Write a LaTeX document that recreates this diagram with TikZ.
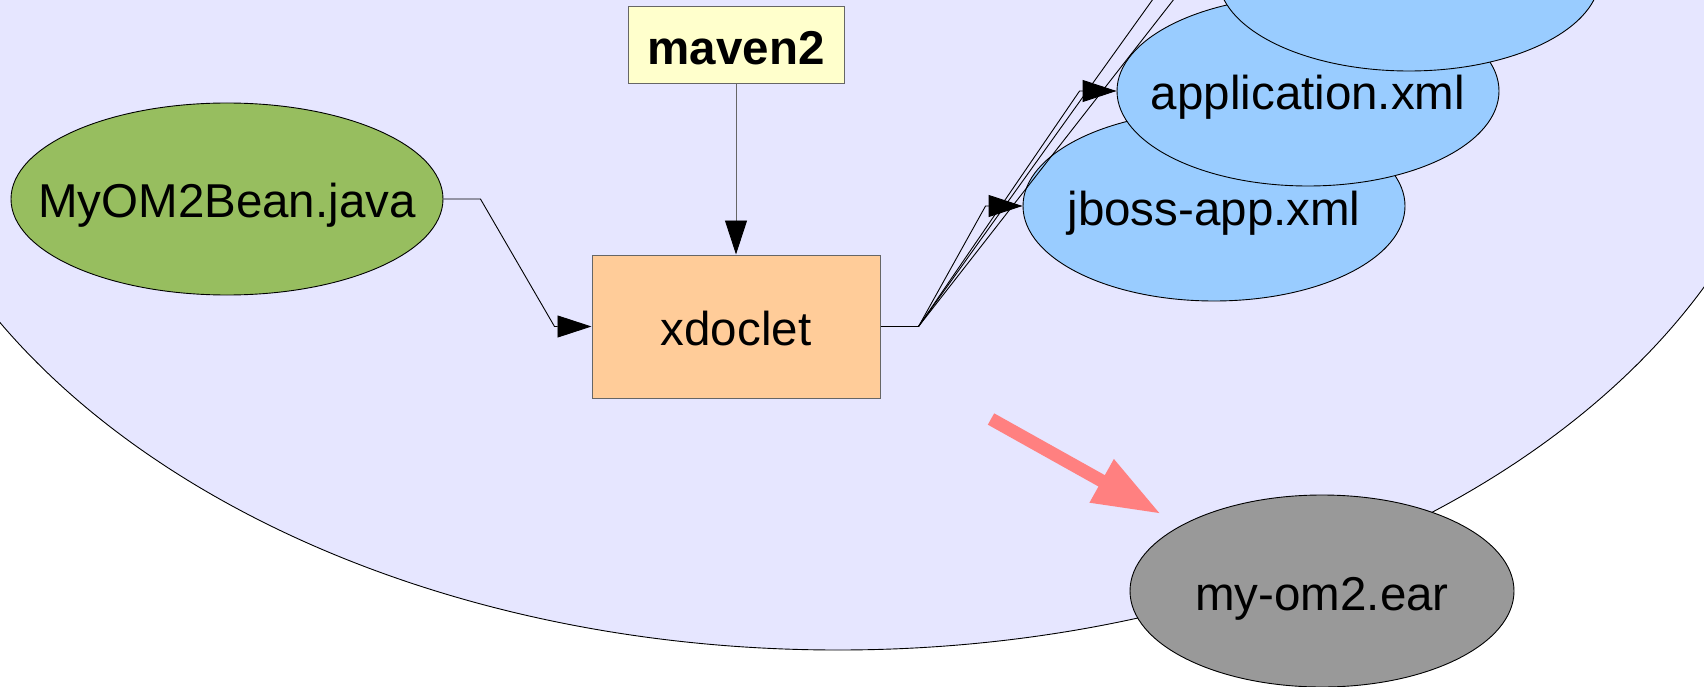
\documentclass[tikz,border=0pt]{standalone}
\usepackage{fontspec}
\setmainfont{Liberation Sans}
\usetikzlibrary{shapes.geometric,arrows.meta}
\definecolor{lav}{HTML}{E6E6FF}
\definecolor{beangreen}{HTML}{97BE5F}
\definecolor{xmlblue}{HTML}{99CCFF}
\definecolor{boxorange}{HTML}{FFCC99}
\definecolor{boxyellow}{HTML}{FFFFCC}
\definecolor{eargray}{HTML}{999999}
\definecolor{pinkarrow}{HTML}{FF8080}
\definecolor{boxborder}{HTML}{666666}
\begin{document}
\begin{tikzpicture}[x=1pt,y=-1pt,
  lbl/.style={font=\fontsize{47.5}{56}\selectfont, text height=38pt, text depth=0pt},
  oval/.style={ellipse, draw=black, line width=0.9pt, inner sep=0pt, lbl},
  box/.style={rectangle, draw=boxborder, line width=1pt, inner sep=0pt, lbl},
  conn/.style={line width=0.9pt, draw=black, -{Triangle[length=34pt,width=22pt,black]}},
  xmlnode/.style={oval, fill=xmlblue, minimum width=382pt, minimum height=190pt},
]
\useasboundingbox (0,0) rectangle (1704,687);
\clip (0,0) rectangle (1704,687);
\fill[white] (0,0) rectangle (1704,687);
% big background ellipse
\draw[fill=lav, line width=0.9pt] (838,0) ellipse [x radius=965pt, y radius=650pt];

% nodes
\node[oval, fill=beangreen, minimum width=432pt, minimum height=192pt] (bean) at (227,199) {\makebox[0pt]{MyOM2Bean.java}};
\node[box, fill=boxyellow, minimum width=216pt, minimum height=77pt] (mvn) at (736,45.5) {\bfseries maven2};
\node[box, fill=boxorange, minimum width=288pt, minimum height=143pt] (xd) at (736,326.5) {xdoclet};
\node[xmlnode] (jb) at (1214,206) {\makebox[0pt]{jboss-app.xml}};
\node[xmlnode] (app) at (1308,91) {\makebox[0pt]{application.xml}};
\node[xmlnode] (topx) at (1409,-24) {};
\node[oval, fill=eargray, minimum width=384pt, minimum height=192pt] (ear) at (1322,591) {\makebox[0pt]{my-om2.ear}};

% connectors
\draw[conn] (bean.east) -- ++(37,0) -- ([xshift=-37pt]xd.west) -- (xd.west);
\draw[conn, draw=boxborder] (mvn.south) -- (xd.north);
\coordinate (fan) at ([xshift=38pt]xd.east);
\coordinate (offtop) at (1281,-138);
\draw[line width=0.9pt] (xd.east) -- (fan);
\draw[conn] (fan) -- ([xshift=-37pt]jb.west) -- (jb.west);
\draw[conn] (fan) -- ([xshift=-37pt]app.west) -- (app.west);
\draw[conn] (fan) -- ([xshift=-48pt]topx.west) -- (topx.west);
\draw[line width=0.9pt] (fan) -- (offtop);

% pink arrow
\coordinate (pa) at (991,419);
\coordinate (pb) at (1161,514);
\draw[line width=13pt, pinkarrow, -{Triangle[length=68pt,width=46pt]}] (pa) -- (pb);
\end{tikzpicture}
\end{document}
